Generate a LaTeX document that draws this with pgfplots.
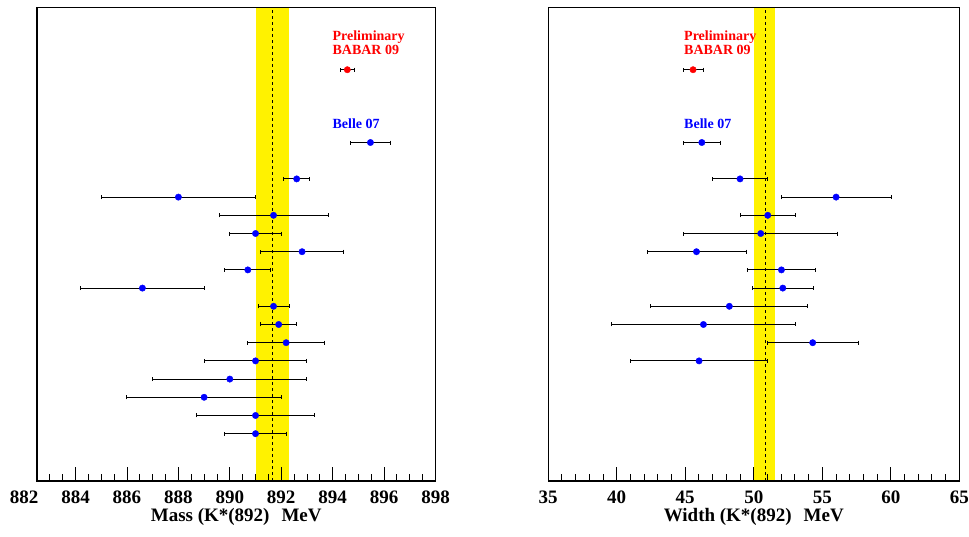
\documentclass[border=0pt]{standalone}
\usepackage{fontspec}
\setmainfont{Liberation Serif}
\usepackage{pgfplots}
\usepackage{pgfplotstable}
\pgfplotsset{compat=1.18}

\pgfplotstableread{
y x em ep
15 892.60 0.50 0.50
14 888.00 3.01 3.01
13 891.70 2.10 2.12
12 891.00 1.01 1.01
11 892.81 1.62 1.61
10 890.70 0.91 0.90
9 886.60 2.41 2.40
8 891.70 0.60 0.62
7 891.90 0.71 0.71
6 892.19 1.49 1.51
5 891.00 2.00 2.00
4 890.00 3.00 3.00
3 889.00 3.01 3.00
2 891.00 2.31 2.31
1 891.00 1.21 1.19
17 895.47 0.76 0.78
}\massdata
\pgfplotstableread{
y x em ep
21 894.57 0.26 0.26
}\massbabar
\pgfplotstableread{
y x em ep
17 46.21 1.37 1.38
15 49.00 1.99 2.00
14 56.01 4.02 4.03
13 51.02 2.02 2.02
12 50.51 5.62 5.62
11 45.82 3.60 3.62
10 52.02 2.48 2.50
9 52.12 2.22 2.21
8 48.22 5.73 5.70
7 46.33 6.71 6.69
6 54.30 3.28 3.34
5 46.01 4.98 5.01
}\widthdata
\pgfplotstableread{
y x em ep
21 45.57 0.73 0.73
}\widthbabar

\tikzset{lbl/.style={anchor=base west, inner sep=0pt, font=\fontsize{14}{14}\selectfont\bfseries, #1}}
\pgfplotsset{
  panel/.style={
    scale only axis, height=473.7pt,
    axis on top, clip=false,
    axis line style={line width=1.3pt},
    ymin=-1.6, ymax=24.43, ytick=\empty,
    xtick pos=left, tick align=inside,
    major tick length=14pt, minor tick length=7pt,
    tick style={black, line width=0.9pt},
    xticklabel style={font=\fontsize{19}{20}\selectfont\bfseries, anchor=base, yshift=-22.3pt},
    /pgf/number format/assume math mode=true,
    /pgf/number format/1000 sep={},
    xlabel style={font=\fontsize{19}{20}\selectfont\bfseries, at={(axis description cs:0.5,0)}, anchor=base, yshift=-40pt},
  },
  meas/.style={only marks, mark=*, mark size=3.2pt, #1, mark options={fill=#1, draw=#1},
    error bars/.cd, x dir=both, x explicit,
    error bar style={black, line width=1pt},
    error mark=|,
    error mark options={black, mark size=2pt, line width=1pt}},
}

\begin{document}
\begin{tikzpicture}
\useasboundingbox (0,0) rectangle (969pt,536pt);
\begin{axis}[panel, at={(37pt,55pt)}, anchor=south west, width=398.5pt,
  xmin=882.5, xmax=898, xtick={884,886,...,898},
  minor xtick={882.5,883,...,898},
  xlabel={Mass (K*(892)\hspace{12pt}MeV}]
  \addplot[fill=yellow, draw=none] coordinates {(891.02,-1.6) (892.32,-1.6) (892.32,24.43) (891.02,24.43)} -- cycle;
  \addplot[black, dashed, line width=0.8pt] coordinates {(891.66,-1.6) (891.66,24.43)};
  \addplot[meas=blue] table[x=x, y=y, x error plus=ep, x error minus=em] {\massdata};
  \addplot[meas=red] table[x=x, y=y, x error plus=ep, x error minus=em] {\massbabar};
  \node[lbl=red] at (axis cs:893.99,22.63) {Preliminary};
  \node[lbl=red] at (axis cs:893.99,21.86) {BABAR 09};
  \node[lbl=blue] at (axis cs:893.99,17.78) {Belle 07};
  \node[anchor=base, font=\fontsize{19}{20}\selectfont\bfseries, yshift=-22.3pt] at (axis cs:882,-1.6) {882};
\end{axis}
\begin{axis}[panel, at={(548.2pt,55pt)}, anchor=south west, width=411.1pt,
  xmin=35, xmax=65, xtick={35,40,...,65},
  minor xtick={35,...,65},
  xlabel={Width (K*(892)\hspace{12pt}MeV}]
  \addplot[fill=yellow, draw=none] coordinates {(50.05,-1.6) (51.58,-1.6) (51.58,24.43) (50.05,24.43)} -- cycle;
  \addplot[black, dashed, line width=0.8pt] coordinates {(50.83,-1.6) (50.83,24.43)};
  \addplot[meas=blue] table[x=x, y=y, x error plus=ep, x error minus=em] {\widthdata};
  \addplot[meas=red] table[x=x, y=y, x error plus=ep, x error minus=em] {\widthbabar};
  \node[lbl=red] at (axis cs:44.91,22.63) {Preliminary};
  \node[lbl=red] at (axis cs:44.91,21.86) {BABAR 09};
  \node[lbl=blue] at (axis cs:44.91,17.78) {Belle 07};
\end{axis}
\end{tikzpicture}
\end{document}
